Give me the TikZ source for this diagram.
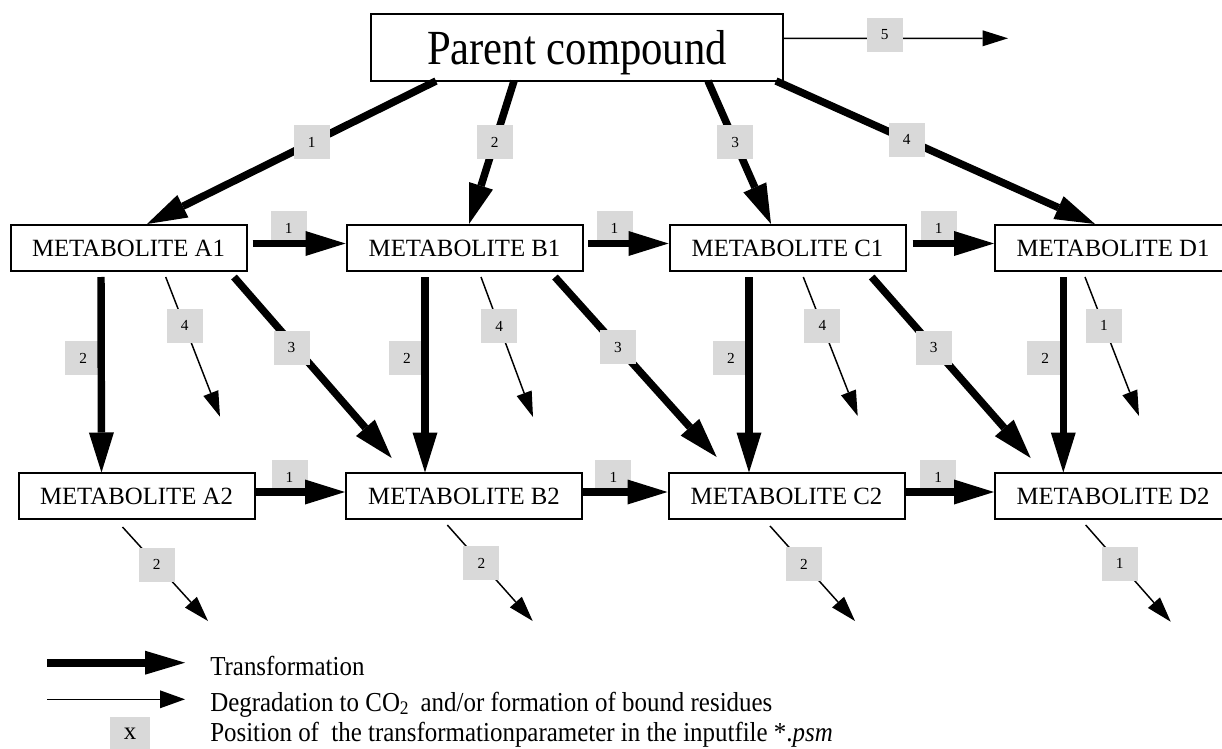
\documentclass[tikz,border=0pt]{standalone}
\usepackage{fontspec}
\setmainfont{Liberation Serif}
\usetikzlibrary{arrows.meta,calc}
\definecolor{tagfill}{RGB}{217,217,217}
\begin{document}
\begin{tikzpicture}[x=0.75pt,y=-0.75pt,
  box/.style={draw, line width=1.5pt, minimum width=177pt, minimum height=34.5pt,
    inner sep=0pt, font=\fontsize{18.6}{20}\selectfont},
  tr/.style={line width=5.6pt, -{Triangle[length=30pt,width=18.75pt,line width=0pt]}},
  dg/.style={line width=1.1pt, -{Triangle[length=19pt,width=12pt,line width=0pt]}},
  tag/.style={fill=tagfill, minimum width=27pt, minimum height=25.5pt, inner sep=0pt,
    font=\fontsize{11.5}{12}\selectfont},
  legtext/.style={anchor=base west, inner sep=0pt, font=\fontsize{18.7}{20}\selectfont},
]
\fill[white] (0,0) rectangle (1222,749);
\useasboundingbox (0,0) rectangle (1222,749);

% compounds
\node[box, minimum width=309pt, minimum height=50.25pt] (P) at (577,47.5)
  {\fontsize{32}{34}\selectfont\raisebox{-4pt}[\height][\depth]{\scalebox{1}[1.15]{Parent compound}}};
\node[box] (A1) at (128.5,248) {METABOLITE A1};
\node[box] (B1) at (464.5,248) {METABOLITE B1};
\node[box] (C1) at (787.5,248) {METABOLITE C1};
\node[box] (D1) at (1113,248) {METABOLITE D1};
\node[box] (A2) at (136.5,496) {METABOLITE A2};
\node[box] (B2) at (464,496) {METABOLITE B2};
\node[box] (C2) at (786.5,496) {METABOLITE C2};
\node[box] (D2) at (1113,496) {METABOLITE D2};

% free ends of the degradation arrows
\coordinate (Pout) at (1008,38.3);
\coordinate (A1out) at (220,416.7);
\coordinate (B1out) at (533,417);
\coordinate (C1out) at (857.7,416);
\coordinate (D1out) at (1139,416);
\coordinate (A2out) at (208,621);
\coordinate (B2out) at (532.7,621);
\coordinate (C2out) at (855,621);
\coordinate (D2out) at (1170.7,621.7);

% parent compound -> first generation
\draw[tr] ($(P.center)+(-141,33.5)$) -- node[tag,pos=0.43]{1} ($(A1.center)+(18.5,-24)$);
\draw[tr] ($(P.center)+(-63,33.5)$) -- node[tag,pos=0.43]{2} ($(B1.center)+(4.5,-24)$);
\draw[tr] ($(P.center)+(131,33.5)$) -- node[tag,pos=0.43]{3} ($(C1.center)+(-16.5,-24)$);
\draw[tr] ($(P.center)+(199,33.5)$) -- node[tag,pos=0.41]{4} ($(D1.center)+(-18,-24)$);
\draw[dg] ($(P.east)+(0,-9.2)$) -- node[tag,pos=0.45,yshift=2.5pt]{5} (Pout);

% horizontal transformations, first row
\draw[tr] ($(A1.east)+(5,-4.5)$) -- node[tag,behind path,pos=0.39,yshift=11.6pt]{1} ($(B1.west)+(0,-4.5)$);
\draw[tr] ($(B1.east)+(4.5,-4.5)$) -- node[tag,behind path,pos=0.33,yshift=11.6pt]{1} ($(C1.west)+(0,-4.5)$);
\draw[tr] ($(C1.east)+(6,-4.5)$) -- node[tag,behind path,pos=0.32,yshift=11.6pt]{1} ($(D1.west)+(0,-4.5)$);

% horizontal transformations, second row
\draw[tr] ($(A2.east)+(0,-4)$) -- node[tag,behind path,pos=0.38,yshift=11.25pt]{1} ($(B2.west)+(0,-4)$);
\draw[tr] ($(B2.east)+(0,-4)$) -- node[tag,behind path,pos=0.36,yshift=11.25pt]{1} ($(C2.west)+(0,-4)$);
\draw[tr] ($(C2.east)+(0,-4)$) -- node[tag,behind path,pos=0.37,yshift=11.25pt]{1} ($(D2.west)+(0,-4)$);

% vertical transformations
\draw[tr] ($(A1.center)+(-27.5,29)$) -- node[tag,behind path,pos=0.415,xshift=-13.5pt]{2} ($(A2.center)+(-35,-23.5)$);
\draw[tr] ($(B1.center)+(-39.5,29)$) -- node[tag,behind path,pos=0.415,xshift=-13.5pt]{2} ($(B2.center)+(-39,-23.5)$);
\draw[tr] ($(C1.center)+(-38.5,29)$) -- node[tag,behind path,pos=0.415,xshift=-13.5pt]{2} ($(C2.center)+(-37.5,-23.5)$);
\draw[tr] ($(D1.center)+(-49.7,29)$) -- node[tag,behind path,pos=0.415,xshift=-13.5pt]{2} ($(D2.center)+(-49.7,-23.5)$);

% diagonal transformations
\draw[tr] ($(A1.center)+(105.5,29)$) -- node[tag,pos=0.39,xshift=-3pt]{3} ($(B2.center)+(-72.3,-38)$);
\draw[tr] ($(B1.center)+(90.5,29)$) -- node[tag,pos=0.39]{3} ($(C2.center)+(-69.8,-39)$);
\draw[tr] ($(C1.center)+(84.2,29)$) -- node[tag,pos=0.39]{3} ($(D2.center)+(-82.3,-38)$);

% degradation, first row
\draw[dg] ($(A1.center)+(37.2,29)$) -- node[tag,pos=0.35]{4} (A1out);
\draw[dg] ($(B1.center)+(16.5,29)$) -- node[tag,pos=0.35]{4} (B1out);
\draw[dg] ($(C1.center)+(15.8,29)$) -- node[tag,pos=0.35]{4} (C1out);
\draw[dg] ($(D1.center)+(-28,29)$) -- node[tag,pos=0.35]{1} (D1out);

% degradation, second row
\draw[dg] ($(A2.center)+(-14,31)$) -- node[tag,pos=0.4]{2} (A2out);
\draw[dg] ($(B2.center)+(-16.7,29)$) -- node[tag,pos=0.4]{2} (B2out);
\draw[dg] ($(C2.center)+(-16.5,30)$) -- node[tag,pos=0.4]{2} (C2out);
\draw[dg] ($(D2.center)+(-27.3,29)$) -- node[tag,pos=0.4]{1} (D2out);

% legend
\coordinate (L1a) at (47,662.7);
\coordinate (L1b) at (185,662.7);
\coordinate (L2a) at (47,699.3);
\coordinate (L2b) at (185,699.3);
\draw[line width=6pt, -{Triangle[length=30pt,width=18pt,line width=0pt]}] (L1a) -- (L1b);
\draw[line width=1.1pt, -{Triangle[length=18.75pt,width=13.5pt,line width=0pt]}] (L2a) -- (L2b);
\node[tag, minimum width=30pt, font=\fontsize{18.7}{20}\selectfont] (LX) at (130,734) {x};
\node[legtext] (LT1) at (210,675) {\scalebox{1}[1.1]{Transformation}};
\node[legtext] (LT2) at (210,711) {\scalebox{1}[1.1]{Degradation to CO\textsubscript{2}\hspace{0.45em}and/or formation of bound residues}};
\node[legtext] (LT3) at (210,741) {\scalebox{1}[1.1]{Position of\ \ the transformationparameter in the inputfile *.\textit{psm}}};
\end{tikzpicture}
\end{document}
